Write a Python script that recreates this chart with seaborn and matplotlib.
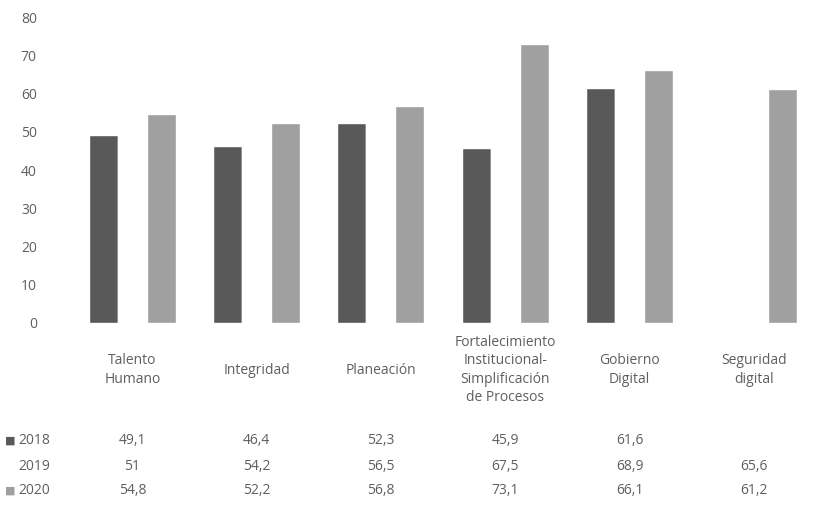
import numpy as np
import pandas as pd
import matplotlib
matplotlib.use("Agg")
import matplotlib.pyplot as plt
import matplotlib.transforms as mtransforms
import seaborn as sns

categorias = ["Talento\nHumano", "Integridad", "Planeación",
              "Fortalecimiento\nInstitucional-\nSimplificación\nde Procesos",
              "Gobierno\nDigital", "Seguridad\ndigital"]
anios = ["2018", "2019", "2020"]
v2018 = [49.1, 46.4, 52.3, 45.9, 61.6, np.nan]
v2019 = [51, 54.2, 56.5, 67.5, 68.9, 65.6]
v2020 = [54.8, 52.2, 56.8, 73.1, 66.1, 61.2]
colores = ["#595959", "#ffffff", "#a0a0a0"]
yticks = [0, 10, 20, 30, 40, 50, 60, 70, 80]

series = {"2018": v2018, "2019": v2019, "2020": v2020}
rows = []
for a in anios:
    for c, v in zip(categorias, series[a]):
        rows.append({"Categoria": c, "Anio": a, "Valor": v})
df = pd.DataFrame(rows)

sns.set_style("white")
plt.rcParams["font.family"] = ["Open Sans", "DejaVu Sans"]
txt = "#5f5f5f"
fs = 10

fig = plt.figure(figsize=(8.16, 5.07), dpi=100)
ax = fig.add_axes([0.086, 0.363, 0.914, 0.603])

sns.barplot(data=df, x="Categoria", y="Valor", hue="Anio", order=categorias,
            hue_order=anios, palette=colores, width=0.7, saturation=1,
            ax=ax, legend=False, err_kws={"linewidth": 0})

ax.set_ylim(0, 80)
ax.set_yticks(yticks)
ax.set_yticklabels([str(t) for t in yticks], color=txt, fontsize=fs)
ax.tick_params(axis="y", length=0, pad=24)
ax.set_xlabel("")
ax.set_ylabel("")
ax.set_xticks([])
sns.despine(ax=ax, left=True, bottom=True)

# data table under the plot
trans = mtransforms.blended_transform_factory(ax.transData, fig.transFigure)
for i, c in enumerate(categorias):
    ax.text(i, 1 - 370 / 507, c, transform=trans, ha="center", va="center",
            fontsize=fs, color=txt, linespacing=1.3, clip_on=False)

row_y = [1 - 441 / 507, 1 - 466 / 507, 1 - 491 / 507]
marcas = ["#595959", None, "#a0a0a0"]
for a, y, m in zip(anios, row_y, marcas):
    if m is not None:
        fig.text(0.006, y, "■", color=m, fontsize=8, va="center", ha="left")
    fig.text(0.061, y, a, color=txt, fontsize=fs, va="center", ha="right")
    for i, v in enumerate(series[a]):
        if np.isnan(v):
            continue
        s = f"{v:g}".replace(".", ",")
        ax.text(i, y, s, transform=trans, ha="center", va="center",
                fontsize=fs, color=txt, clip_on=False)

fig.savefig("out.png", dpi=100)
